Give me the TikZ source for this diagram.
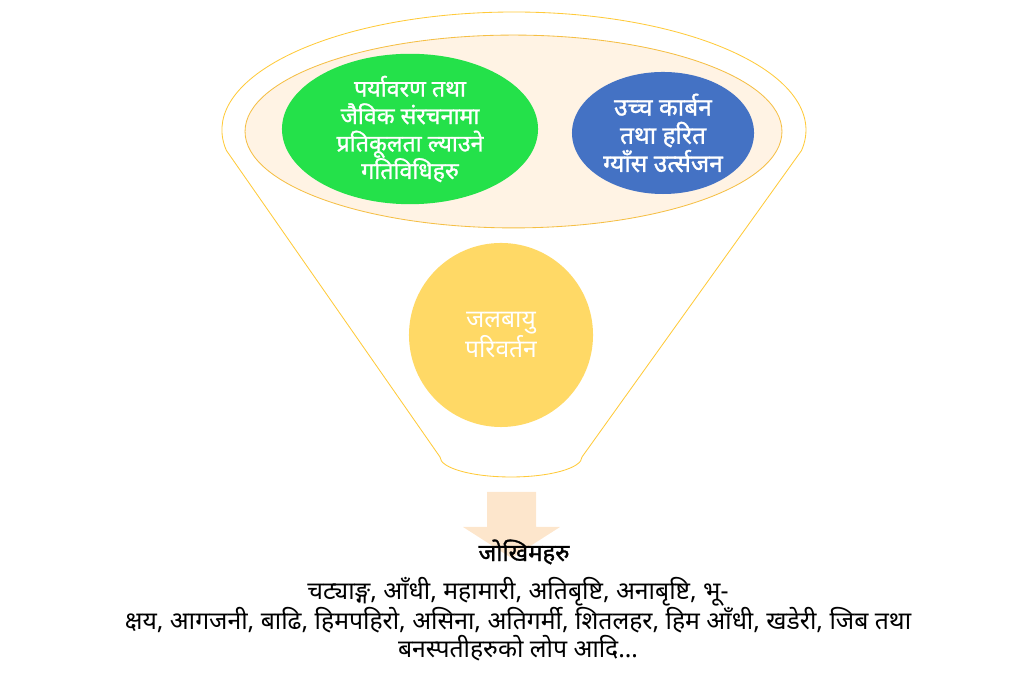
\documentclass[tikz,border=0pt]{standalone}
\usepackage{xcolor}
\usepackage{fontspec}
\newfontfamily\devfont[Script=Devanagari]{Noto Sans}
\newfontfamily\devbold[Script=Devanagari, FakeBold=1.2]{Noto Sans}
\usetikzlibrary{shapes.geometric, positioning}
\definecolor{funnelgold}{HTML}{FFCA3A}
\definecolor{rimgold}{HTML}{F5BF45}
\definecolor{rimfill}{HTML}{FFF3E4}
\definecolor{actgreen}{HTML}{24E14A}
\definecolor{carbonblue}{HTML}{4472C4}
\definecolor{climyellow}{HTML}{FFD966}
\definecolor{arrowpeach}{HTML}{FDE6CC}

\begin{document}
\begin{tikzpicture}[x=0.025cm, y=0.025cm,
bubble/.style = {ellipse, inner sep=0pt, align=center, text=white, font=\devbold\fontsize{16.5}{19.5}\selectfont},
riskline/.style = {align=center, inner sep=0pt, font=\devfont\fontsize{17.6}{20}\selectfont}]
\useasboundingbox (0,0) rectangle (1024,674);
\draw[funnelgold, line width=0.6pt] (226.4,523.5) arc[start angle=190, end angle=-10, x radius=292, y radius=118]
  -- (582,217) arc[start angle=0, end angle=-180, x radius=71, y radius=20] -- cycle;
\node[ellipse, draw=rimgold, fill=rimfill, line width=0.6pt, minimum width=13.42cm, minimum height=4.82cm] (rim) at (513.5,542.5) {};

\node[bubble, fill=actgreen, minimum width=6.4cm, minimum height=3.05cm] (act) at (410,545)
  {पर्यावरण तथा\\जैविक संरचनामा\\प्रतिकूलता ल्याउने\\गतिविधिहरु};
\node[bubble, fill=carbonblue, minimum width=4.55cm, minimum height=3.05cm, font=\devbold\fontsize{17.5}{20}\selectfont] (carb) at (663,541)
  {उच्च कार्बन\\तथा हरित\\ग्याँस उर्त्सजन};
\node[circle, fill=climyellow, minimum size=4.6cm, inner sep=0pt] (clim) at (501,339) {};
\node[align=center, text=white, font=\devfont\fontsize{17.5}{18}\selectfont] (climtxt) at (501,339) {जलबायु\\परिवर्तन};

\fill[arrowpeach] (487,182) -- (536,182) -- (536,147) -- (560,147) -- (511.5,116) -- (463,147) -- (487,147) -- cycle;
\node[riskline, font=\devbold\fontsize{17}{18}\selectfont] (jokhim) at (524,122) {जोखिमहरु};
\node[riskline] (risks) at (518,55)
  {चट्याङ्ग, आँधी, महामारी, अतिबृष्टि, अनाबृष्टि, भू-\\क्षय, आगजनी, बाढि, हिमपहिरो, असिना, अतिगर्मी, शितलहर, हिम आँधी, खडेरी, जिब तथा\\बनस्पतीहरुको लोप आदि…};
\end{tikzpicture}
\end{document}
